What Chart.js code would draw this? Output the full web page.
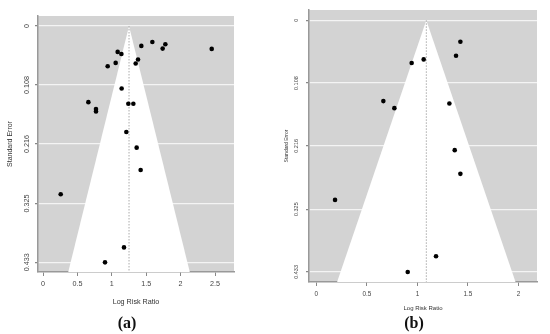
<!DOCTYPE html>
<html>
<head>
<meta charset="utf-8">
<script src="https://cdn.jsdelivr.net/npm/chart.js@4/dist/chart.umd.min.js"></script>
<style>
  body { margin: 0; background: #fff; }
  #wrap { position: relative; width: 550px; height: 334px; overflow: hidden; }
  canvas { position: absolute; top: 0; }
  .cap { position: absolute; top: 314px; font: bold 16px "Liberation Serif", serif; color: #111; transform: translateX(-50%); }
</style>
</head>
<body>
<div id="wrap">
  <canvas id="funnelA" width="250" height="334" style="left:0"></canvas>
  <canvas id="funnelB" width="275" height="334" style="left:275px"></canvas>
  <div class="cap" style="left:127px">(a)</div>
  <div class="cap" style="left:414px">(b)</div>
</div>
<script>
// standard error ticks (shared)
const seTicks = [0, 0.108, 0.216, 0.325, 0.433];

// panel (a)
const aLogRR = [1.429, 1.589, 1.739, 1.778, 2.452, 1.085, 1.139, 1.381, 1.347, 1.056, 0.940, 1.143,
                0.659, 0.770, 0.770, 1.240, 1.313, 1.211, 1.361, 1.419, 0.257, 1.177, 0.901];
const aSE = [0.0365, 0.0292, 0.0414, 0.0335, 0.0420, 0.0475, 0.0512, 0.0615, 0.0688, 0.0676, 0.0737, 0.1145,
             0.1395, 0.1523, 0.1565, 0.1425, 0.1425, 0.1943, 0.2229, 0.2637, 0.3082, 0.4056, 0.433];
const aCenter = 1.25;
const aXTicks = [0, 0.5, 1, 1.5, 2, 2.5];

// panel (b)
const bLogRR = [1.425, 1.382, 1.062, 0.943, 0.663, 0.772, 1.316, 1.369, 1.425, 0.185, 1.184, 0.904];
const bSE = [0.0368, 0.0609, 0.0672, 0.0735, 0.1390, 0.1511, 0.1430, 0.2234, 0.2642, 0.3090, 0.4061, 0.433];
const bCenter = 1.088;
const bXTicks = [0, 0.5, 1, 1.5, 2];

const z = 1.96;

const grayBg = {
  id: 'grayBg',
  beforeDraw(chart) {
    const { ctx, chartArea: a } = chart;
    ctx.save();
    ctx.fillStyle = '#d3d3d3';
    ctx.fillRect(a.left, a.top, a.right - a.left, a.bottom - a.top);
    ctx.restore();
  }
};

function funnel(id, o) {
  const pts = o.x.map((v, i) => ({ x: v, y: o.se[i] }));
  const yMax = o.yRange[1];
  return new Chart(document.getElementById(id), {
    type: 'scatter',
    data: {
      datasets: [
        { data: pts, pointRadius: 2.3, pointBackgroundColor: '#000', pointBorderWidth: 0, order: 0 },
        { data: [{ x: o.center, y: 0 }, { x: o.center, y: yMax }], showLine: true, pointRadius: 0,
          borderColor: '#aaa', borderWidth: 1, borderDash: [1.5, 1.5], order: 1 },
        { data: [{ x: o.center - z * yMax, y: yMax }, { x: o.center, y: 0 }, { x: o.center + z * yMax, y: yMax }],
          showLine: true, pointRadius: 0, borderWidth: 0, backgroundColor: '#fff', fill: 'shape', order: 2 }
      ]
    },
    options: {
      responsive: false,
      animation: false,
      events: [],
      layout: { padding: o.pad },
      plugins: { legend: { display: false }, tooltip: { enabled: false } },
      scales: {
        x: {
          type: 'linear', min: o.xRange[0], max: o.xRange[1],
          afterBuildTicks: s => { s.ticks = o.xTicks.map(v => ({ value: v })); },
          afterFit: s => { s.height = o.xH; },
          ticks: { autoSkip: false, padding: o.xPad, color: '#444', font: { family: 'Liberation Sans', size: o.xFont },
                   callback: v => String(v) },
          grid: { drawOnChartArea: false, tickLength: 4, tickColor: '#888' },
          border: { color: '#999', width: 1.5 },
          title: { display: true, text: 'Log Risk Ratio', color: '#333',
                   font: { family: 'Liberation Sans', size: o.xTitleFont }, padding: { top: 0, bottom: o.xTitlePad } }
        },
        y: {
          type: 'linear', reverse: true, min: o.yRange[0], max: o.yRange[1],
          afterBuildTicks: s => { s.ticks = seTicks.map(v => ({ value: v })); },
          afterFit: s => { s.width = o.yW; },
          ticks: { autoSkip: false, minRotation: 90, maxRotation: 90, crossAlign: 'center', padding: o.yPad,
                   color: '#444', font: { family: 'Liberation Sans', size: o.yFont }, callback: v => String(v) },
          grid: { color: '#f4f4f4', lineWidth: 1.2, tickLength: 3, tickColor: '#888' },
          border: { color: '#999', width: 1.5 },
          title: { display: true, text: 'Standard Error', color: '#333',
                   font: { family: 'Liberation Sans', size: o.yTitleFont }, padding: { top: o.yTitlePad, bottom: 0 } }
        }
      }
    },
    plugins: [grayBg]
  });
}

funnel('funnelA', {
  x: aLogRR, se: aSE, center: aCenter, xTicks: aXTicks,
  xRange: [-0.073, 2.776], yRange: [-0.0183, 0.4507],
  pad: { top: 16, right: 16, bottom: 24, left: 0 },
  xH: 38, yW: 38, xPad: 4, yPad: -1,
  xFont: 7.2, yFont: 7.2, xTitleFont: 7.2, yTitleFont: 7, xTitlePad: 3.5, yTitlePad: 5.5
});

funnel('funnelB', {
  x: bLogRR, se: bSE, center: bCenter, xTicks: bXTicks,
  xRange: [-0.0726, 2.183], yRange: [-0.0178, 0.4503],
  pad: { top: 10, right: 13, bottom: 22, left: 0 },
  xH: 30, yW: 34, xPad: 4, yPad: 3,
  xFont: 6.4, yFont: 5.5, xTitleFont: 6, yTitleFont: 5, xTitlePad: 0, yTitlePad: 9
});
</script>
</body>
</html>
